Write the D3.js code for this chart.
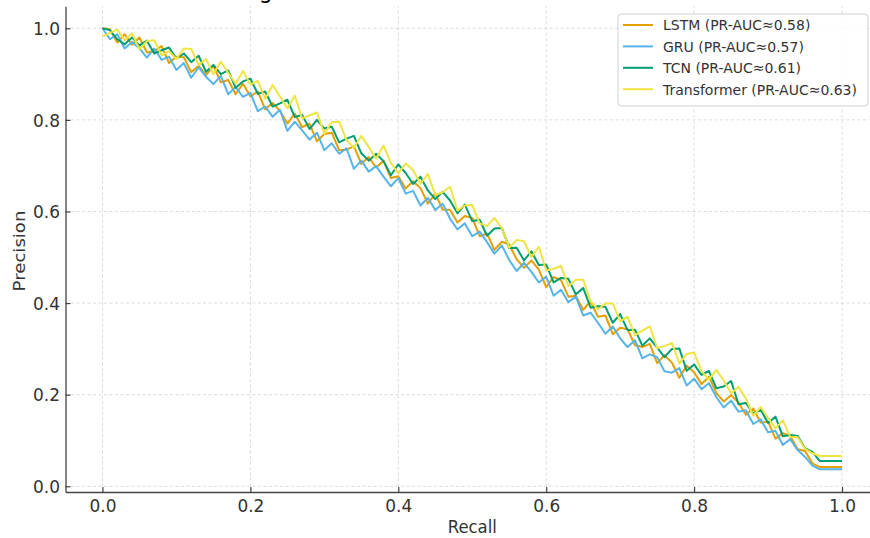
<!DOCTYPE html>
<html>
<head>
<meta charset="utf-8">
<script src="https://cdn.jsdelivr.net/npm/d3@7"></script>
<style>
  body { margin: 0; background: #fff; }
  svg { display: block; }
</style>
</head>
<body>
<div id="chart"></div>
<script>
// recall thresholds (shared x grid)
var recall = [
  0.00, 0.01, 0.02, 0.03, 0.04, 0.05, 0.06, 0.07, 0.08, 0.09,
  0.10, 0.11, 0.12, 0.13, 0.14, 0.15, 0.16, 0.17, 0.18, 0.19,
  0.20, 0.21, 0.22, 0.23, 0.24, 0.25, 0.26, 0.27, 0.28, 0.29,
  0.30, 0.31, 0.32, 0.33, 0.34, 0.35, 0.36, 0.37, 0.38, 0.39,
  0.40, 0.41, 0.42, 0.43, 0.44, 0.45, 0.46, 0.47, 0.48, 0.49,
  0.50, 0.51, 0.52, 0.53, 0.54, 0.55, 0.56, 0.57, 0.58, 0.59,
  0.60, 0.61, 0.62, 0.63, 0.64, 0.65, 0.66, 0.67, 0.68, 0.69,
  0.70, 0.71, 0.72, 0.73, 0.74, 0.75, 0.76, 0.77, 0.78, 0.79,
  0.80, 0.81, 0.82, 0.83, 0.84, 0.85, 0.86, 0.87, 0.88, 0.89,
  0.90, 0.91, 0.92, 0.93, 0.94, 0.95, 0.96, 0.97, 1.00
];

var lstmPrecision = [
  1.000, 0.998, 0.969, 0.987, 0.964, 0.980, 0.947, 0.950, 0.961, 0.924,
  0.938, 0.937, 0.904, 0.918, 0.898, 0.918, 0.882, 0.887, 0.856, 0.879,
  0.851, 0.862, 0.823, 0.837, 0.820, 0.792, 0.814, 0.784, 0.792, 0.753,
  0.769, 0.772, 0.734, 0.735, 0.742, 0.704, 0.719, 0.696, 0.711, 0.673,
  0.677, 0.650, 0.666, 0.651, 0.617, 0.639, 0.604, 0.604, 0.576, 0.590,
  0.586, 0.546, 0.552, 0.516, 0.534, 0.528, 0.496, 0.477, 0.493, 0.473,
  0.435, 0.457, 0.450, 0.414, 0.416, 0.385, 0.404, 0.370, 0.373, 0.332,
  0.346, 0.343, 0.308, 0.304, 0.311, 0.269, 0.286, 0.270, 0.237, 0.263,
  0.249, 0.223, 0.239, 0.204, 0.185, 0.199, 0.183, 0.156, 0.170, 0.139,
  0.141, 0.104, 0.116, 0.110, 0.081, 0.077, 0.050, 0.042, 0.042
];

var gruPrecision = [
  1.000, 0.976, 0.987, 0.956, 0.970, 0.956, 0.936, 0.956, 0.931, 0.938,
  0.909, 0.924, 0.892, 0.915, 0.894, 0.878, 0.896, 0.856, 0.872, 0.850,
  0.859, 0.819, 0.829, 0.807, 0.822, 0.776, 0.796, 0.777, 0.757, 0.772,
  0.734, 0.749, 0.726, 0.738, 0.693, 0.711, 0.687, 0.699, 0.676, 0.655,
  0.673, 0.639, 0.645, 0.613, 0.630, 0.603, 0.617, 0.584, 0.561, 0.574,
  0.546, 0.556, 0.533, 0.508, 0.526, 0.494, 0.470, 0.488, 0.468, 0.445,
  0.458, 0.416, 0.429, 0.402, 0.414, 0.373, 0.379, 0.357, 0.333, 0.349,
  0.323, 0.304, 0.319, 0.279, 0.288, 0.282, 0.251, 0.248, 0.258, 0.220,
  0.235, 0.212, 0.225, 0.195, 0.172, 0.187, 0.163, 0.166, 0.136, 0.146,
  0.118, 0.121, 0.090, 0.103, 0.079, 0.064, 0.045, 0.037, 0.037
];

var tcnPrecision = [
  1.000, 0.996, 0.976, 0.965, 0.980, 0.962, 0.973, 0.945, 0.952, 0.958,
  0.934, 0.945, 0.926, 0.940, 0.905, 0.920, 0.900, 0.908, 0.870, 0.884,
  0.890, 0.857, 0.862, 0.829, 0.836, 0.844, 0.806, 0.811, 0.780, 0.800,
  0.781, 0.785, 0.751, 0.759, 0.765, 0.727, 0.711, 0.726, 0.710, 0.679,
  0.703, 0.684, 0.660, 0.676, 0.646, 0.627, 0.643, 0.624, 0.596, 0.615,
  0.579, 0.582, 0.547, 0.563, 0.564, 0.520, 0.521, 0.493, 0.513, 0.483,
  0.484, 0.445, 0.455, 0.453, 0.419, 0.433, 0.390, 0.393, 0.392, 0.357,
  0.376, 0.341, 0.342, 0.307, 0.323, 0.303, 0.282, 0.300, 0.301, 0.252,
  0.266, 0.243, 0.252, 0.214, 0.218, 0.230, 0.179, 0.182, 0.158, 0.167,
  0.138, 0.152, 0.109, 0.112, 0.110, 0.083, 0.075, 0.055, 0.055
];

var transformerPrecision = [
  0.982, 0.990, 0.997, 0.974, 0.989, 0.954, 0.972, 0.974, 0.941, 0.950,
  0.933, 0.956, 0.955, 0.920, 0.933, 0.900, 0.927, 0.903, 0.879, 0.907,
  0.877, 0.885, 0.846, 0.876, 0.851, 0.825, 0.853, 0.803, 0.810, 0.816,
  0.770, 0.795, 0.796, 0.756, 0.739, 0.765, 0.741, 0.715, 0.744, 0.706,
  0.683, 0.705, 0.690, 0.661, 0.682, 0.636, 0.642, 0.654, 0.602, 0.613,
  0.614, 0.574, 0.568, 0.586, 0.563, 0.521, 0.538, 0.535, 0.500, 0.523,
  0.471, 0.475, 0.481, 0.437, 0.451, 0.451, 0.404, 0.386, 0.399, 0.399,
  0.360, 0.370, 0.330, 0.340, 0.349, 0.302, 0.306, 0.313, 0.268, 0.289,
  0.292, 0.252, 0.233, 0.254, 0.231, 0.203, 0.217, 0.192, 0.154, 0.173,
  0.149, 0.127, 0.144, 0.108, 0.107, 0.082, 0.072, 0.066, 0.066
];

var models = ["LSTM", "GRU", "TCN", "Transformer"];
var prAuc = [0.58, 0.57, 0.61, 0.63];
var precisions = [lstmPrecision, gruPrecision, tcnPrecision, transformerPrecision];
var colors = ["#E69F00", "#56B4E9", "#009E73", "#F0E442"];

var xTicks = [0.0, 0.2, 0.4, 0.6, 0.8, 1.0];
var yTicks = [0.0, 0.2, 0.4, 0.6, 0.8, 1.0];

var width = 870, height = 538;
var font = "'DejaVu Sans', sans-serif";
var ink = "#333";
var spine = "#444";

var svg = d3.select("#chart").append("svg")
  .attr("width", width)
  .attr("height", height)
  .style("background", "#fff");

// axes box (matplotlib-ish 5% margins)
var x = d3.scaleLinear().domain([-0.05, 1.05]).range([65.5, 879]);
var y = d3.scaleLinear().domain([-0.0125, 1.048]).range([492, 6.3]);

// dashed grid
var grid = svg.append("g");
grid.selectAll("line.gx").data(xTicks).join("line")
  .attr("x1", d => x(d)).attr("x2", d => x(d))
  .attr("y1", y.range()[0]).attr("y2", y.range()[1])
  .attr("stroke", "#d2d2d2").attr("stroke-width", 0.8)
  .attr("stroke-dasharray", "3,2.5");
grid.selectAll("line.gy").data(yTicks).join("line")
  .attr("x1", x.range()[0]).attr("x2", x.range()[1])
  .attr("y1", d => y(d)).attr("y2", d => y(d))
  .attr("stroke", "#d2d2d2").attr("stroke-width", 0.8)
  .attr("stroke-dasharray", "3,2.5");

// curves
var line = d3.line()
  .x(d => x(d[0]))
  .y(d => y(d[1]));

svg.append("g").selectAll("path")
  .data(precisions)
  .join("path")
  .attr("d", p => line(recall.map((r, i) => [r, p[i]])))
  .attr("fill", "none")
  .attr("stroke", (p, i) => colors[i])
  .attr("stroke-width", 2)
  .attr("stroke-linejoin", "round");

// axes, ticks pointing inwards
var fmt = d3.format(".1f");

var gx = svg.append("g")
  .attr("transform", "translate(0," + y.range()[0] + ")")
  .call(d3.axisBottom(x).tickValues(xTicks).tickFormat(fmt)
    .tickSizeInner(-5).tickSizeOuter(0));

var gy = svg.append("g")
  .attr("transform", "translate(" + x.range()[0] + ",0)")
  .call(d3.axisLeft(y).tickValues(yTicks).tickFormat(fmt)
    .tickSizeInner(-5).tickSizeOuter(0));

[gx, gy].forEach(function(g) {
  g.attr("font-family", null).attr("font-size", null);
  g.select(".domain").attr("stroke", spine).attr("stroke-width", 1.3);
  g.selectAll(".tick line").attr("stroke", spine).attr("stroke-width", 1.2);
  g.selectAll(".tick text")
    .attr("fill", ink)
    .style("font-family", font)
    .style("font-size", "17px")
    .attr("x", null).attr("y", null).attr("dy", null);
});
gx.selectAll(".tick text").attr("transform", "translate(0,19.5) scale(1,1.06)");
gy.selectAll(".tick text").attr("transform", "translate(-5.5,6.3) scale(1,1.06)");

// axis labels
svg.append("text")
  .attr("transform", "translate(" + ((x.range()[0] + x.range()[1]) / 2) + ",533) scale(1,1.1)")
  .attr("text-anchor", "middle")
  .style("font-family", font).style("font-size", "16.5px")
  .attr("fill", ink)
  .text("Recall");

svg.append("text")
  .attr("transform", "translate(25,251) scale(1,1.1) rotate(-90)")
  .attr("text-anchor", "middle")
  .style("font-family", font).style("font-size", "16.5px")
  .attr("fill", ink)
  .text("Precision");

// title, mostly cut off by the top edge as in the source image
svg.append("text")
  .attr("transform", "translate(" + ((x.range()[0] + x.range()[1]) / 2) + ",-2.5) scale(1,1.06)")
  .attr("text-anchor", "middle")
  .style("font-family", font).style("font-size", "22px")
  .attr("fill", "#000")
  .text("Average Precision–Recall Curves Across All Models");

// legend
var legend = svg.append("g");
legend.append("rect")
  .attr("x", 618).attr("y", 14)
  .attr("width", 250).attr("height", 92)
  .attr("rx", 4)
  .attr("fill", "#fff").attr("fill-opacity", 0.85)
  .attr("stroke", "#d0d0d0").attr("stroke-width", 1);

var rows = legend.selectAll("g.row")
  .data(models)
  .join("g")
  .attr("transform", (d, i) => "translate(0," + (25 + i * 21.4) + ")");

rows.append("line")
  .attr("x1", 623).attr("x2", 653)
  .attr("stroke", (d, i) => colors[i])
  .attr("stroke-width", 2);

rows.append("text")
  .attr("transform", "translate(663,5.3) scale(1,1.06)")
  .style("font-family", font).style("font-size", "14px")
  .attr("fill", ink)
  .text((d, i) => d + " (PR-AUC\u2248" + d3.format(".2f")(prAuc[i]) + ")");
</script>
</body>
</html>
